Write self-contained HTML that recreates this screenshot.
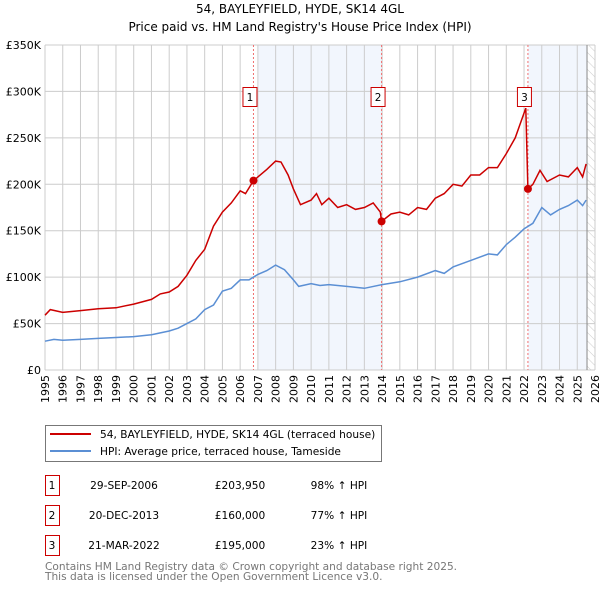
<!DOCTYPE html>
<html><head><meta charset="utf-8"><style>
body{margin:0;background:#fff;width:600px;height:590px;overflow:hidden}
svg text{font-family:"DejaVu Sans","Liberation Sans",sans-serif}
</style></head><body>
<svg id="chart" width="600" height="590" xmlns="http://www.w3.org/2000/svg">
<defs><pattern id="hatch" width="6" height="6" patternUnits="userSpaceOnUse" patternTransform="rotate(-45)"><line x1="0" y1="0" x2="0" y2="6" stroke="#ccc" stroke-width="1"/></pattern></defs>
<text x="300" y="13" text-anchor="middle" font-size="12">54, BAYLEYFIELD, HYDE, SK14 4GL</text>
<text x="300" y="31" text-anchor="middle" font-size="12">Price paid vs. HM Land Registry's House Price Index (HPI)</text>
<g id="bg"></g><g id="grid"></g><g id="series"></g><g id="axes"></g>
<g>
<rect x="45.5" y="425.5" width="336" height="36" fill="#fff" stroke="#777"/>
<line x1="50" y1="434" x2="91" y2="434" stroke="#cc0000" stroke-width="2"/>
<text x="100" y="438" font-size="10.6">54, BAYLEYFIELD, HYDE, SK14 4GL (terraced house)</text>
<line x1="50" y1="451" x2="91" y2="451" stroke="#5b8fd4" stroke-width="2"/>
<text x="100" y="455" font-size="10.6">HPI: Average price, terraced house, Tameside</text>
</g>
<g id="table"></g>
<text x="45" y="570" font-size="10.6" fill="#777">Contains HM Land Registry data © Crown copyright and database right 2025.</text>
<text x="45" y="580" font-size="10.6" fill="#777">This data is licensed under the Open Government Licence v3.0.</text>
</svg>
<script>
const hpiYears=[1995,1995.5,1996,1997,1998,1999,2000,2001,2001.5,2002,2002.5,2003,2003.5,2004,2004.5,2005,2005.5,2006,2006.5,2007,2007.5,2008,2008.5,2009,2009.3,2010,2010.5,2011,2012,2013,2014,2015,2016,2017,2017.5,2018,2019,2020,2020.5,2021,2021.5,2022,2022.5,2023,2023.5,2024,2024.5,2025,2025.3,2025.5];
const hpiValues=[31000,33000,32000,33000,34000,35000,36000,38000,40000,42000,45000,50000,55000,65000,70000,85000,88000,97000,97000,103000,107000,113000,108000,97000,90000,93000,91000,92000,90000,88000,92000,95000,100000,107000,104000,111000,118000,125000,124000,135000,143000,152000,158000,175000,167000,173000,177000,183000,177000,183000];
const priceYears=[1995,1995.3,1996,1997,1998,1999,2000,2001,2001.5,2002,2002.5,2003,2003.5,2004,2004.5,2005,2005.5,2006,2006.3,2006.75,2007,2007.5,2008,2008.3,2008.7,2009,2009.4,2010,2010.3,2010.6,2011,2011.5,2012,2012.5,2013,2013.5,2013.9,2013.97,2014.5,2015,2015.5,2016,2016.5,2017,2017.5,2018,2018.5,2019,2019.5,2020,2020.5,2021,2021.5,2022.1,2022.22,2022.5,2022.9,2023.3,2024,2024.5,2025,2025.3,2025.5];
const priceValues=[59000,65000,62000,64000,66000,67000,71000,76000,82000,84000,90000,102000,118000,130000,155000,170000,180000,193000,190000,203950,208000,216000,225000,224000,210000,195000,178000,183000,190000,178000,185000,175000,178000,173000,175000,180000,170000,160000,168000,170000,167000,175000,173000,185000,190000,200000,198000,210000,210000,218000,218000,233000,250000,282000,195000,200000,215000,203000,210000,208000,218000,208000,222000];
const saleLabels=["1","2","3"];
const saleYears=[2006.75,2013.97,2022.22];
const salePrices=[203950,160000,195000];
const saleDates=["29-SEP-2006","20-DEC-2013","21-MAR-2022"];
const salePriceText=["£203,950","£160,000","£195,000"];
const saleHpiText=["98% ↑ HPI","77% ↑ HPI","23% ↑ HPI"];
const yTicks=[0,50000,100000,150000,200000,250000,300000,350000];
const yTickLabels=["£0","£50K","£100K","£150K","£200K","£250K","£300K","£350K"];
const xTicks=[1995,1996,1997,1998,1999,2000,2001,2002,2003,2004,2005,2006,2007,2008,2009,2010,2011,2012,2013,2014,2015,2016,2017,2018,2019,2020,2021,2022,2023,2024,2025,2026];
const dataEnd=2025.55;
const L=45,R=595,T=45,B=370;
const x=v=>L+(v-1995)/(2026-1995)*(R-L);
const y=v=>B-v/350000*(B-T);
const NS="http://www.w3.org/2000/svg";
function mk(p,t,a){const e=document.createElementNS(NS,t);for(const k in a)e.setAttribute(k,a[k]);document.getElementById(p).appendChild(e);return e;}
let e;
e=mk('bg','rect',{x:x(saleYears[0])+5,y:T,width:x(saleYears[1])-x(saleYears[0])-5,height:B-T,fill:'#f2f6fd'});


e=mk('bg','rect',{x:x(saleYears[2]),y:T,width:x(dataEnd)-x(saleYears[2]),height:B-T,fill:'#f2f6fd'});


e=mk('bg','rect',{x:x(dataEnd),y:T,width:R-x(dataEnd),height:B-T,fill:'url(#hatch)'});


xTicks.forEach(t=>{e=mk('grid','line',{x1:x(t),x2:x(t),y1:T,y2:B,stroke:'#ccc'});


e=mk('axes','text',{transform:`translate(${x(t)+4},${B+5}) rotate(-90)`,'text-anchor':'end','font-size':11});e.textContent=t;

});
yTicks.forEach((t,i)=>{e=mk('grid','line',{x1:L,x2:R,y1:y(t),y2:y(t),stroke:'#ccc'});


e=mk('axes','text',{x:L-4,y:y(t)+4,'text-anchor':'end','font-size':11});e.textContent=yTickLabels[i];

});
e=mk('grid','line',{x1:x(dataEnd),x2:x(dataEnd),y1:T,y2:B,stroke:'#888'});


saleYears.forEach(s=>{e=mk('grid','line',{x1:x(s),x2:x(s),y1:T,y2:B,stroke:'#f07070','stroke-dasharray':'2,2'});

});
const pts=(xs,vs)=>xs.map((v,i)=>x(v).toFixed(1)+','+y(vs[i]).toFixed(1)).join(' ');
e=mk('series','polyline',{points:pts(hpiYears,hpiValues),fill:'none',stroke:'#5b8fd4','stroke-width':1.5});


e=mk('series','polyline',{points:pts(priceYears,priceValues),fill:'none',stroke:'#cc0000','stroke-width':1.5});


saleYears.forEach((s,i)=>{
e=mk('series','circle',{cx:x(s),cy:y(salePrices[i]),r:4,fill:'#cc0000'});


const bx=x(s)-10,by=87;
e=mk('series','rect',{x:bx-0.5,y:by+0.5,width:14,height:19,fill:'#fff',stroke:'#cc0000'});


e=mk('series','text',{x:bx+6.5,y:by+14,'text-anchor':'middle','font-size':10.5});e.textContent=saleLabels[i];


const ry=475+i*30;
e=mk('table','rect',{x:45.5,y:ry+0.5,width:14,height:20,fill:'#fff',stroke:'#cc0000'});


const cells=[[52,saleLabels[i]],[124,saleDates[i]],[240,salePriceText[i]],[339,saleHpiText[i]]];
cells.forEach(c=>{e=mk('table','text',{x:c[0],y:ry+14,'text-anchor':'middle','font-size':10.6});e.textContent=c[1];

});
});
</script>
</body></html>
